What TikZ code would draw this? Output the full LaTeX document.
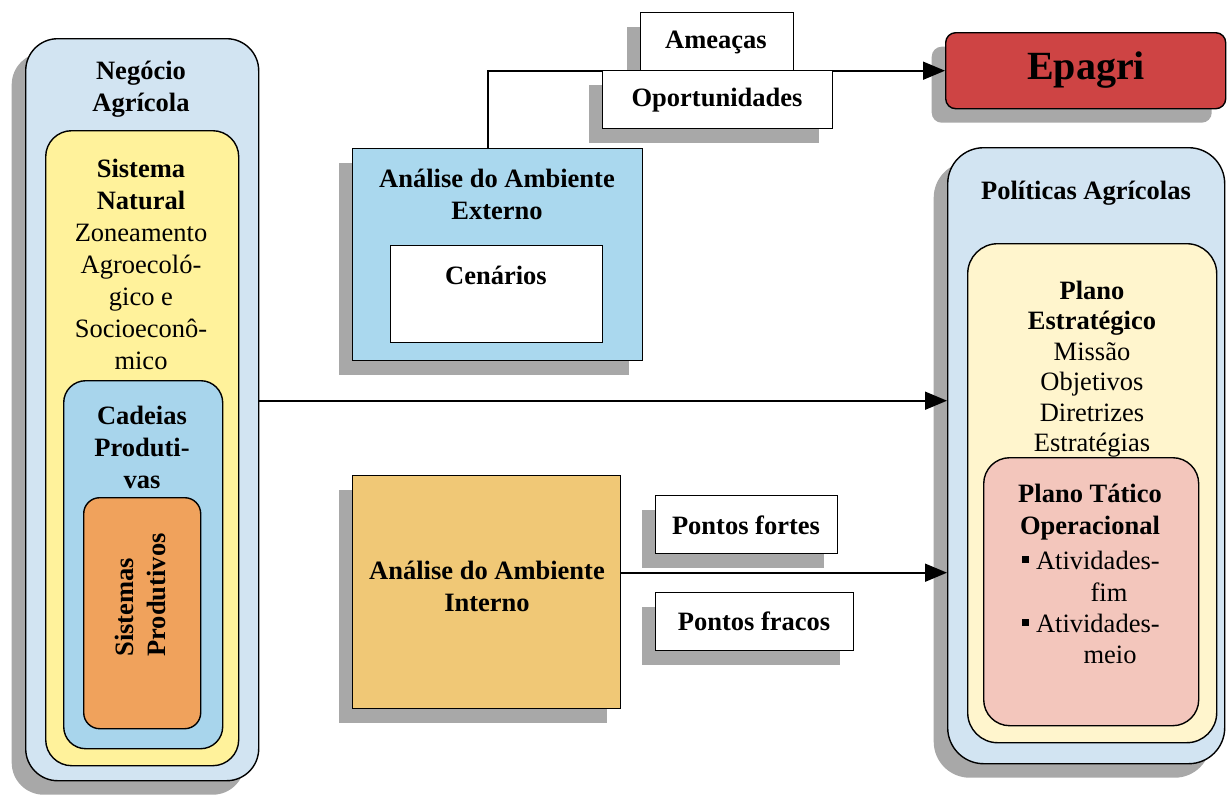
\documentclass[tikz,border=0pt]{standalone}
\usepackage{fontspec}
\setmainfont{Liberation Serif}
\usetikzlibrary{arrows.meta,shadows,calc}
\definecolor{lblue}{RGB}{210,228,242}
\definecolor{lyellow}{RGB}{255,242,155}
\definecolor{mblue}{RGB}{168,213,236}
\definecolor{orng}{RGB}{240,162,92}
\definecolor{extblue}{RGB}{170,216,238}
\definecolor{intgold}{RGB}{240,200,118}
\definecolor{epred}{RGB}{206,68,68}
\definecolor{pyellow}{RGB}{255,245,205}
\definecolor{pink}{RGB}{243,198,188}
\definecolor{shadowgray}{RGB}{168,168,168}
\newcommand{\sqbullet}{\raisebox{6pt}{\rule{7pt}{7pt}}}
\begin{document}
\begin{tikzpicture}[x=1pt,y=-1pt,
  every node/.style={font=\fontsize{26.5}{32}\selectfont, inner sep=0pt},
  box/.style={draw=black, line width=1.4pt, anchor=north west, inner sep=0pt},
  shad/.style={drop shadow={shadow xshift=-14pt, shadow yshift=-14pt, fill=shadowgray, opacity=1}},
  txt/.style={align=center, font=\fontsize{26.5}{32}\selectfont\bfseries},
  plain/.style={align=center, font=\fontsize{26.5}{32}\selectfont},
  conn/.style={draw=black, line width=1.6pt, -{Triangle[length=22pt,width=18pt]}}]
\useasboundingbox (0,0) rectangle (1228,798);

% left nested boxes
\node[box, shad, fill=lblue, rounded corners=32pt, minimum width=233pt, minimum height=742pt] (neg) at (25,38) {};
\node[box, fill=lyellow, rounded corners=26pt, minimum width=193pt, minimum height=635pt] (nat) at (45,130) {};
\node[box, fill=mblue, rounded corners=22pt, minimum width=159pt, minimum height=368pt] (cad) at (63,380) {};
\node[box, fill=orng, rounded corners=16pt, minimum width=117pt, minimum height=231pt] (sp) at (83,497) {};
\node[txt] (tneg) at (141,89) {Negócio\\Agrícola};
\node[plain] (tnat) at (141,264) {\textbf{Sistema}\\\textbf{Natural}\\Zoneamento\\Agroecoló-\\gico e\\Socioeconô-\\mico};
\node[txt] (tcad) at (142,447) {Cadeias\\Produti-\\vas};
\node[font=\fontsize{26.5}{32}\selectfont\bfseries, align=left, rotate=90] (tsp) at (140,595) {Sistemas\\Produtivos};

% external analysis
\node[box, shad, fill=extblue, minimum width=290pt, minimum height=212pt] (ext) at (352,148) {};
\node[box, fill=white, minimum width=212pt, minimum height=97pt] (cen) at (390,245) {};
\node[txt] (text) at (497,194) {Análise do Ambiente\\Externo};
\node[txt] (tcen) at (496,275) {Cenários};

% Epagri
\node[box, shad, fill=epred, rounded corners=10pt, minimum width=280pt, minimum height=76pt] (epagri) at (945,32) {};
\node[font=\fontsize{40}{44}\selectfont\bfseries] (tepa) at (1086,70) {Epagri};

% connector external -> Epagri
\coordinate (a3) at ([xshift=-10pt]ext.north);
\draw[conn] (a3) |- (epagri.west);

% Ameacas / Oportunidades
\node[box, shad, fill=white, minimum width=153pt, minimum height=58pt] (amea) at (640,12) {};
\node[txt] (tamea) at (716,42) {Ameaças};
\node[box, shad, fill=white, minimum width=230pt, minimum height=58pt] (opor) at (602,70) {};
\node[txt] (topor) at (717,100) {Oportunidades};

% internal analysis
\node[box, shad, fill=intgold, minimum width=268pt, minimum height=233pt] (int) at (352,475) {};
\node[txt] (tint) at (487,586) {Análise do Ambiente\\Interno};
\node[box, shad, fill=white, minimum width=182pt, minimum height=58pt] (pf) at (655,495) {};
\node[txt] (tpf) at (746,525) {Pontos fortes};
\node[box, shad, fill=white, minimum width=198pt, minimum height=58pt] (pfr) at (655,592) {};
\node[txt] (tpfr) at (754,621) {Pontos fracos};

% right nested boxes
\node[box, shad, fill=lblue, rounded corners=36pt, minimum width=277pt, minimum height=616pt] (pol) at (947,147) {};
\node[box, fill=pyellow, rounded corners=30pt, minimum width=249pt, minimum height=499pt] (est) at (967,243) {};
\node[txt] (tpol) at (1086,193) {Políticas Agrícolas};
\node[align=center, font=\fontsize{26.5}{30.5}\selectfont] (test) at (1092,369) {\textbf{Plano}\\\textbf{Estratégico}\\Missão\\Objetivos\\Diretrizes\\Estratégias};
\node[box, fill=pink, rounded corners=26pt, minimum width=215pt, minimum height=268pt] (tat) at (983,457) {};
\node[txt] (ttat) at (1090,512) {Plano Tático\\Operacional};
\node[plain] (b1) at (1091,560) {\sqbullet\ Atividades-};
\node[plain] (b1b) at (1109,592) {fim};
\node[plain] (b2) at (1091,623) {\sqbullet\ Atividades-};
\node[plain] (b2b) at (1110,655) {meio};

% main arrows
\coordinate (a1) at ([yshift=9pt]neg.east);
\draw[conn] (a1) -- (a1 -| pol.west);
\coordinate (a2) at ([yshift=19.5pt]int.east);
\draw[conn] (a2) -- (a2 -| pol.west);
\end{tikzpicture}
\end{document}
